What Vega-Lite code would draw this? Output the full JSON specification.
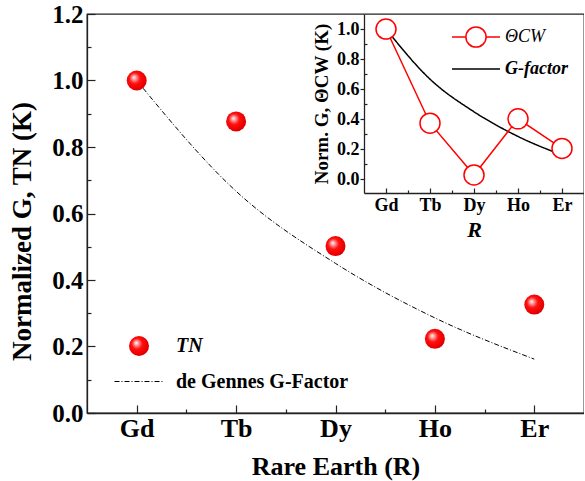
{
  "$schema": "https://vega.github.io/schema/vega-lite/v6.json",
  "padding": {"left": 8, "top": 2, "right": 0, "bottom": 2},
  "background": "white",
  "width": 497,
  "height": 399,
  "data": {
    "values": [
      {"R": "Gd", "Z": 64, "TN": 1.0, "G": 1.0, "CW": 1.0},
      {"R": "Tb", "Z": 65, "TN": 0.877, "G": 0.667, "CW": 0.374},
      {"R": "Dy", "Z": 66, "TN": 0.502, "G": 0.45, "CW": 0.03},
      {"R": "Ho", "Z": 67, "TN": 0.223, "G": 0.286, "CW": 0.403},
      {"R": "Er", "Z": 68, "TN": 0.326, "G": 0.162, "CW": 0.206}
    ]
  },
  "config": {
    "font": "Liberation Serif",
    "view": {"stroke": "#222", "strokeWidth": 1.3},
    "axis": {
      "grid": false,
      "domainColor": "#222",
      "domainWidth": 1.3,
      "tickColor": "#222",
      "tickWidth": 1.2,
      "labelColor": "black",
      "titleColor": "black",
      "labelFont": "Liberation Serif",
      "titleFont": "Liberation Serif",
      "labelFontWeight": "bold",
      "titleFontWeight": "bold",
      "labelOverlap": false,
      "labelFlush": false
    },
    "legend": {
      "labelFont": "Liberation Serif",
      "labelColor": "black",
      "padding": 0,
      "labelLimit": 400
    }
  },
  "resolve": {
    "scale": {"x": "independent", "y": "independent", "strokeDash": "independent"},
    "axis": {"x": "independent", "y": "independent"},
    "legend": {"strokeDash": "independent"}
  },
  "layer": [
    {
      "encoding": {
        "x": {
          "field": "Z",
          "type": "quantitative",
          "scale": {"domain": [63.5, 68.5], "nice": false, "zero": false},
          "axis": {
            "orient": "bottom",
            "title": "Rare Earth (R)",
            "titleFontSize": 26,
            "titlePadding": 8,
            "values": [64, 64.5, 65, 65.5, 66, 66.5, 67, 67.5, 68],
            "labelExpr": "datum.value % 1 == 0 ? ['Gd','Tb','Dy','Ho','Er'][datum.value - 64] : ''",
            "labelFontSize": 26,
            "labelPadding": 10,
            "tickSize": {"condition": {"test": "datum.value % 1 == 0", "value": -8}, "value": -4}
          }
        }
      },
      "layer": [
        {
          "mark": {"type": "line", "interpolate": "monotone", "color": "black", "strokeWidth": 1},
          "encoding": {
            "y": {
              "field": "G",
              "type": "quantitative",
              "scale": {"domain": [0, 1.2], "nice": false},
              "axis": {
                "orient": "left",
                "title": "Normalized G, TN (K)",
                "titleFontSize": 27,
                "titlePadding": 15,
                "titleY": 217,
                "values": [0, 0.1, 0.2, 0.3, 0.4, 0.5, 0.6, 0.7, 0.8, 0.9, 1.0, 1.1, 1.2],
                "labelExpr": "round(datum.value * 10) % 2 == 0 ? format(datum.value, '.1f') : ''",
                "labelFontSize": 25,
                "labelPadding": 12,
                "tickSize": {"condition": {"test": "round(datum.value * 10) % 2 == 0", "value": -8}, "value": -4}
              }
            },
            "strokeDash": {
              "datum": "de Gennes G-Factor",
              "scale": {"range": [[5, 2, 1, 2]]},
              "legend": {
                "orient": "none",
                "legendX": 27,
                "legendY": 342,
                "title": null,
                "symbolType": "stroke",
                "symbolSize": 2500,
                "symbolStrokeColor": "black",
                "symbolStrokeWidth": 1,
                "labelOffset": 11,
                "labelFontSize": 20,
                "labelFontWeight": "bold"
              }
            }
          }
        },
        {
          "mark": {
            "type": "point",
            "shape": "circle",
            "filled": true,
            "size": 400,
            "opacity": 1,
            "strokeWidth": 0,
            "fill": {
              "gradient": "radial",
              "x1": 0.36, "y1": 0.34, "r1": 0,
              "x2": 0.45, "y2": 0.45, "r2": 0.6,
              "stops": [
                {"offset": 0, "color": "#ffffff"},
                {"offset": 0.18, "color": "#ff9a9a"},
                {"offset": 0.45, "color": "#ff1010"},
                {"offset": 0.8, "color": "#ee0000"},
                {"offset": 1, "color": "#c80000"}
              ]
            }
          },
          "encoding": {
            "y": {
              "field": "TN",
              "type": "quantitative",
              "scale": {"domain": [0, 1.2], "nice": false},
              "axis": {
                "orient": "left",
                "title": "Normalized G, TN (K)",
                "titleFontSize": 27,
                "titlePadding": 15,
                "titleY": 217,
                "values": [0, 0.1, 0.2, 0.3, 0.4, 0.5, 0.6, 0.7, 0.8, 0.9, 1.0, 1.1, 1.2],
                "labelExpr": "round(datum.value * 10) % 2 == 0 ? format(datum.value, '.1f') : ''",
                "labelFontSize": 25,
                "labelPadding": 12,
                "tickSize": {"condition": {"test": "round(datum.value * 10) % 2 == 0", "value": -8}, "value": -4}
              }
            },
            "shape": {
              "datum": "TN",
              "scale": {"range": ["circle"]},
              "legend": {
                "orient": "none",
                "legendX": 42,
                "legendY": 322,
                "title": null,
                "symbolSize": 400,
                "symbolStrokeWidth": 0,
                "symbolFillColor": {
                  "gradient": "radial",
                  "x1": 0.36, "y1": 0.34, "r1": 0,
                  "x2": 0.45, "y2": 0.45, "r2": 0.6,
                  "stops": [
                    {"offset": 0, "color": "#ffffff"},
                    {"offset": 0.18, "color": "#ff9a9a"},
                    {"offset": 0.45, "color": "#ff1010"},
                    {"offset": 0.8, "color": "#ee0000"},
                    {"offset": 1, "color": "#c80000"}
                  ]
                },
                "labelOffset": 27,
                "labelFontSize": 20,
                "labelFontWeight": "bold",
                "labelFontStyle": "italic"
              }
            }
          }
        }
      ]
    },
    {
      "encoding": {
        "x": {
          "field": "Z",
          "type": "quantitative",
          "scale": {"domain": [63.5, 68.5], "nice": false, "zero": false, "range": [277, 497]},
          "axis": {
            "orient": "bottom",
            "offset": -220,
            "title": "R",
            "titleFontSize": 22,
            "titleFontStyle": "italic",
            "titlePadding": 3,
            "values": [64, 64.5, 65, 65.5, 66, 66.5, 67, 67.5, 68],
            "labelExpr": "datum.value % 1 == 0 ? ['Gd','Tb','Dy','Ho','Er'][datum.value - 64] : ''",
            "labelFontSize": 18,
            "labelPadding": 8,
            "tickSize": {"condition": {"test": "datum.value % 1 == 0", "value": -5}, "value": -3}
          }
        },
        "y": {
          "type": "quantitative",
          "scale": {"domain": [-0.09, 1.1], "nice": false, "zero": false, "range": [179, 0]},
          "axis": {
            "orient": "left",
            "offset": -277,
            "title": "Norm. G, ΘCW (K)",
            "titleFontSize": 19,
            "titlePadding": 5,
            "values": [0, 0.1, 0.2, 0.3, 0.4, 0.5, 0.6, 0.7, 0.8, 0.9, 1.0],
            "labelExpr": "round(datum.value * 10) % 2 == 0 ? format(datum.value, '.1f') : ''",
            "labelFontSize": 18,
            "labelPadding": 1,
            "tickSize": {"condition": {"test": "round(datum.value * 10) % 2 == 0", "value": 4}, "value": -3}
          }
        }
      },
      "layer": [
        {
          "mark": {"type": "line", "interpolate": "monotone", "strokeWidth": 1.5, "color": "black"},
          "encoding": {
            "y": {"field": "G"},
            "strokeDash": {
              "datum": "G-factor",
              "scale": {"range": [[1, 0]]},
              "legend": {
                "orient": "none",
                "legendX": 364,
                "legendY": 30,
                "title": null,
                "symbolType": "stroke",
                "symbolSize": 2304,
                "symbolStrokeColor": "black",
                "symbolStrokeWidth": 1.5,
                "labelOffset": 4,
                "labelFontSize": 18,
                "labelFontStyle": "italic",
                "labelFontWeight": "bold"
              }
            }
          }
        },
        {
          "mark": {"type": "line", "strokeWidth": 1.5},
          "encoding": {
            "y": {"field": "CW"},
            "color": {
              "datum": "ΘCW",
              "scale": {"range": ["#ff0000"]},
              "legend": {
                "orient": "none",
                "legendX": 364,
                "legendY": -2,
                "title": null,
                "symbolType": "M-1,0L-0.42,0M0.42,0L1,0M0.42,0A0.42,0.42,0,1,1,-0.42,0A0.42,0.42,0,1,1,0.42,0Z",
                "symbolSize": 2304,
                "symbolStrokeWidth": 1.5,
                "symbolFillColor": "white",
                "labelOffset": 4,
                "labelFontSize": 18,
                "labelFontStyle": "italic",
                "labelFontWeight": "normal",
                "encode": {
                  "symbols": {"update": {"fill": {"value": "white"}}}
                }
              }
            }
          }
        },
        {
          "mark": {"type": "point", "shape": "circle", "size": 400, "filled": true, "fill": "white", "stroke": "#ff0000", "strokeWidth": 1.5, "opacity": 1},
          "encoding": {
            "y": {"field": "CW"}
          }
        }
      ]
    }
  ]
}
